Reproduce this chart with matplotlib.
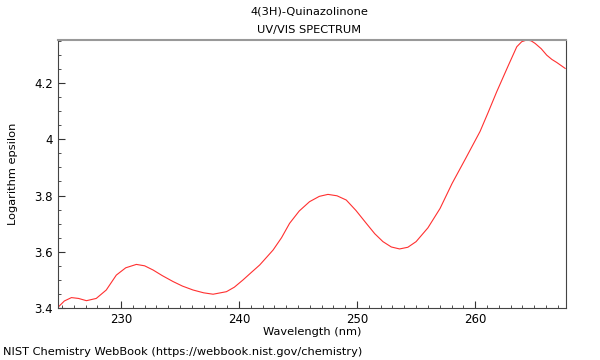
import matplotlib
matplotlib.use("Agg")
import matplotlib.pyplot as plt
from matplotlib.ticker import MultipleLocator

wavelength = [224.6, 225.2, 225.8, 226.4, 227.07, 227.9, 228.75, 229.6, 230.4, 231.3,
              232.0, 232.72, 233.5, 234.41, 235.2, 236.1, 237.0, 237.8, 238.93, 239.6,
              240.34, 241.0, 241.75, 242.88, 243.6, 244.28, 245.1, 245.97, 246.8, 247.53,
              248.3, 249.08, 249.9, 250.78, 251.5, 252.19, 252.9, 253.6, 254.3, 255.0,
              256.0, 257.03, 258.05, 259.2, 260.42, 261.1, 261.83, 262.82, 263.53, 263.95,
              264.38, 264.75, 265.08, 265.6, 266.07, 266.5, 266.92, 267.63]
log_eps = [3.400, 3.425, 3.437, 3.434, 3.426, 3.434, 3.464, 3.517, 3.543, 3.555,
           3.550, 3.535, 3.515, 3.494, 3.478, 3.464, 3.454, 3.449, 3.458, 3.474,
           3.500, 3.525, 3.553, 3.606, 3.650, 3.701, 3.745, 3.778, 3.797, 3.804,
           3.799, 3.784, 3.747, 3.701, 3.664, 3.636, 3.617, 3.610, 3.616, 3.636,
           3.685, 3.754, 3.843, 3.932, 4.028, 4.095, 4.169, 4.263, 4.329, 4.347,
           4.353, 4.350, 4.341, 4.322, 4.299, 4.284, 4.273, 4.252]

fig = plt.figure(figsize=(6, 3.6), dpi=100)
ax = fig.add_axes([58/600, 1-308/360, 508/600, 268/360])
ax.plot(wavelength, log_eps, color="#ff3030", lw=0.8)
ax.set_xlim(224.66, 267.7)
ax.set_ylim(3.4, 4.353)
ax.xaxis.set_major_locator(MultipleLocator(10))
ax.xaxis.set_minor_locator(MultipleLocator(1))
ax.yaxis.set_major_locator(MultipleLocator(0.2))
ax.yaxis.set_minor_locator(MultipleLocator(0.05))
ax.yaxis.set_major_formatter(plt.FuncFormatter(lambda v, p: f"{v:g}"))
ax.tick_params(direction="in", which="major", length=5, width=0.8, colors="#333333", labelcolor="black", labelsize=8.5)
ax.tick_params(direction="in", which="minor", length=2.5, width=0.6, colors="#333333")
for s in ["left", "bottom", "right"]:
    ax.spines[s].set_color("#444444")
    ax.spines[s].set_linewidth(0.8)
ax.spines["top"].set_color("#999999")
ax.spines["top"].set_linewidth(1.5)
ax.set_xlabel("Wavelength (nm)", fontsize=8.2, labelpad=1)
ax.set_ylabel("Logarithm epsilon", fontsize=8.2, labelpad=12)
fig.text(0.515, 1-12/360, "4(3H)-Quinazolinone", ha="center", va="center", fontsize=8.2)
fig.text(0.515, 1-30/360, "UV/VIS SPECTRUM", ha="center", va="center", fontsize=8.2)
fig.text(3/600, 1-352/360, "NIST Chemistry WebBook (https://webbook.nist.gov/chemistry)", ha="left", va="center", fontsize=8.2)
fig.savefig("out.png", dpi=100)
